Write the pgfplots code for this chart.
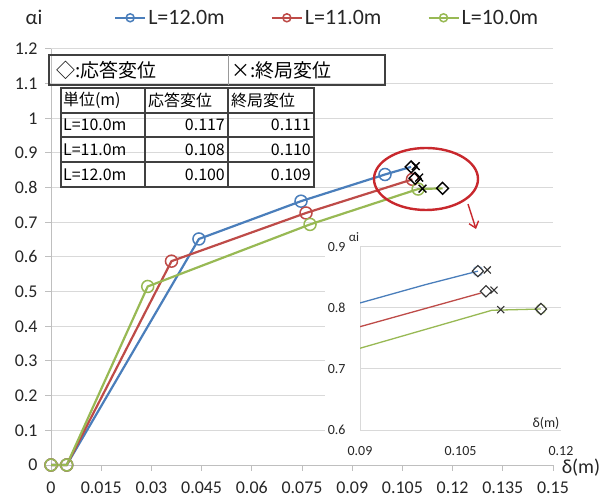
\documentclass[border=0pt]{standalone}
\usepackage{fontspec}
\setmainfont{Carlito}
\newfontfamily\jp{Noto Sans CJK JP}
\usepackage{pgfplots}
\pgfplotsset{compat=1.18}
\usetikzlibrary{arrows.meta}

\definecolor{cblue}{HTML}{4A7EBB}
\definecolor{cred}{HTML}{BE4B48}
\definecolor{cgreen}{HTML}{98B954}
\definecolor{gridc}{HTML}{D9D9D9}
\definecolor{axc}{HTML}{BFBFBF}
\definecolor{ellc}{HTML}{C8282D}
\definecolor{tabc}{HTML}{404040}

\begin{document}
\begin{tikzpicture}
\path[use as bounding box] (-51bp,-36bp) rectangle (553bp,465bp);

% ---------------- main chart ----------------
\begin{axis}[
  at={(0,0)}, anchor=south west,
  width=502bp, height=416bp, scale only axis,
  xmin=0, xmax=0.15, ymin=0, ymax=1.2,
  xtick={0,0.015,0.03,0.045,0.06,0.075,0.09,0.105,0.12,0.135,0.15},
  xticklabels={0,0.015,0.03,0.045,0.06,0.075,0.09,0.105,0.12,0.135,0.15},
  ytick={0,0.1,0.2,0.3,0.4,0.5,0.6,0.7,0.8,0.9,1,1.1,1.2},
  yticklabels={0,0.1,0.2,0.3,0.4,0.5,0.6,0.7,0.8,0.9,1,1.1,1.2},
  axis x line*=bottom, axis y line*=left,
  axis line style={axc, line width=1bp},
  tick style={axc, line width=1bp},
  tick align=outside, major tick length=6bp,
  ymajorgrids, grid style={gridc, line width=1bp},
  tick label style={font=\fontsize{18}{20}\selectfont, text=black!85},
  xticklabel style={yshift=-7bp},
  yticklabel style={xshift=-4bp},
  /pgf/number format/assume math mode=true,
  clip=false,
  legend style={at={(0.55,1.075)}, anchor=center, draw=none, fill=none,
    font=\fontsize{22}{24}\selectfont, text=black!85,
    /tikz/every even column/.append style={column sep=44bp}},
  legend columns=3,
  legend image code/.code={\draw[#1, mark size=4bp, mark indices={2}]
      plot coordinates {(0bp,0bp) (15bp,0bp) (30bp,0bp)};},
]
\addplot[cblue, line width=2.2bp, mark=o, mark size=6bp,
  mark options={line width=1.5bp, fill=none}, mark indices={1,2,3,4,5}]
  coordinates {(0,0) (0.0047,0) (0.0442,0.652) (0.0747,0.761) (0.0998,0.838) (0.1076,0.860)};
\addplot[cred, line width=2.2bp, mark=o, mark size=6bp,
  mark options={line width=1.5bp, fill=none}]
  coordinates {(0,0) (0.0047,0) (0.0360,0.588) (0.0762,0.727) (0.1080,0.824)};
\addplot[cgreen, line width=2.2bp, mark=o, mark size=6bp,
  mark options={line width=1.5bp, fill=none}, mark indices={1,2,3,4,5}]
  coordinates {(0,0) (0.0047,0) (0.0289,0.515) (0.0774,0.694) (0.1097,0.796) (0.1170,0.798)};
% response displacement (diamonds) and ultimate displacement (crosses)
\addplot[forget plot, only marks, black, mark=square, mark size=4.2bp,
  mark options={rotate=45, line width=1.4bp, fill=none}]
  coordinates {(0.1076,0.860) (0.1088,0.827) (0.1170,0.798)};
\addplot[forget plot, only marks, black, mark=x, mark size=5.5bp,
  mark options={line width=1.4bp}]
  coordinates {(0.109,0.862) (0.110,0.829) (0.111,0.797)};
\legend{L=12.0m, L=11.0m, L=10.0m}
\end{axis}

\begin{scope}[x=1bp, y=-1bp, shift={(-51bp,465bp)}]
  % background of the enlarged view
  \fill[white] (325,229) rectangle (600,456);

  % axis titles of the main chart
  \node[font=\fontsize{21}{22}\selectfont, text=black!85] at (34,17) {αi};
  \node[font=\fontsize{20}{22}\selectfont, text=black!85, inner sep=1bp] at (581,468) {δ(m)};

  % key to the black marks
  \draw[tabc, line width=1.4bp] (49,55) rectangle (385,85);
  \draw[black!40, line width=0.6bp] (228,55) -- (228,85);
  \node[anchor=west, inner sep=0, font=\jp\fontsize{19}{20}\selectfont] at (56,70) {◇:応答変位};
  \node[anchor=west, inner sep=0, font=\jp\fontsize{19}{20}\selectfont] at (231,70) {×:終局変位};

  % displacement table
  \begin{scope}[tabc, line width=1.1bp]
    \draw (61,88) rectangle (314,187);
    \draw (145,88) -- (145,187);
    \draw (228,88) -- (228,187);
    \draw (61,113) -- (314,113);
    \draw (61,137) -- (314,137);
    \draw (61,162) -- (314,162);
  \end{scope}
  \begin{scope}[every node/.style={inner sep=0, font=\jp\fontsize{16}{17}\selectfont}]
    \node[anchor=west] at (63,100.5) {単位(m)};
    \node[anchor=west] at (148,100.5) {応答変位};
    \node[anchor=west] at (231,100.5) {終局変位};
    \node[anchor=west] at (63,125) {L=10.0m};
    \node[anchor=east] at (225,125) {0.117};
    \node[anchor=east] at (311,125) {0.111};
    \node[anchor=west] at (63,149.5) {L=11.0m};
    \node[anchor=east] at (225,149.5) {0.108};
    \node[anchor=east] at (311,149.5) {0.110};
    \node[anchor=west] at (63,174.5) {L=12.0m};
    \node[anchor=east] at (225,174.5) {0.100};
    \node[anchor=east] at (311,174.5) {0.109};
  \end{scope}
\end{scope}

% ---------------- enlarged view ----------------
\begin{axis}[
  at={(309bp,35bp)}, anchor=south west,
  width=201bp, height=183.3bp, scale only axis,
  xmin=0.09, xmax=0.12, ymin=0.6, ymax=0.9,
  xtick={0.09,0.105,0.12}, xticklabels={0.09,0.105,0.12},
  ytick={0.6,0.7,0.8,0.9}, yticklabels={0.6,0.7,0.8,0.9},
  axis x line*=bottom, axis y line*=left,
  axis line style={gridc, line width=1bp},
  major tick length=0bp,
  ymajorgrids, grid style={gridc, line width=1bp},
  tick label style={font=\fontsize{14}{15}\selectfont, text=black!85},
  xticklabel style={yshift=-13bp},
  yticklabel style={xshift=-11bp},
]
\addplot[cblue, line width=1.3bp, mark=o, mark size=5bp,
  mark options={cblue!55, line width=1.1bp, fill=none}, mark indices={2}]
  coordinates {(0.0747,0.761) (0.0998,0.838) (0.1076,0.860)};
\addplot[cred, line width=1.3bp, mark=o, mark size=5bp,
  mark options={cred!55, line width=1.1bp, fill=none}, mark indices={2}]
  coordinates {(0.0762,0.727) (0.1080,0.824)};
\addplot[cgreen, line width=1.3bp, mark=o, mark size=5bp,
  mark options={cgreen!55, line width=1.1bp, fill=none}, mark indices={2}]
  coordinates {(0.0774,0.694) (0.1097,0.796) (0.1170,0.798)};
\addplot[only marks, black!80, mark=square, mark size=4bp,
  mark options={rotate=45, line width=1.1bp, fill=none}]
  coordinates {(0.1076,0.860) (0.1088,0.827) (0.1170,0.798)};
\addplot[only marks, black!80, mark=x, mark size=5bp,
  mark options={line width=1.1bp}]
  coordinates {(0.109,0.862) (0.110,0.829) (0.111,0.797)};
\end{axis}

\begin{scope}[x=1bp, y=-1bp, shift={(-51bp,465bp)}]
  \node[font=\fontsize{13}{14}\selectfont, text=black!85] at (354,237) {αi};
  \node[font=\fontsize{14}{15}\selectfont, text=black!85] at (546,423) {δ(m)};
  % highlight of the peak region and pointer to the enlarged view
  \draw[ellc, line width=2.4bp] (426,179) ellipse [x radius=52bp, y radius=31bp];
  \draw[ellc, line width=1.4bp, -{Straight Barb[length=6bp,width=10bp]}] (468,204) -- (476,229);
\end{scope}
\end{tikzpicture}
\end{document}
